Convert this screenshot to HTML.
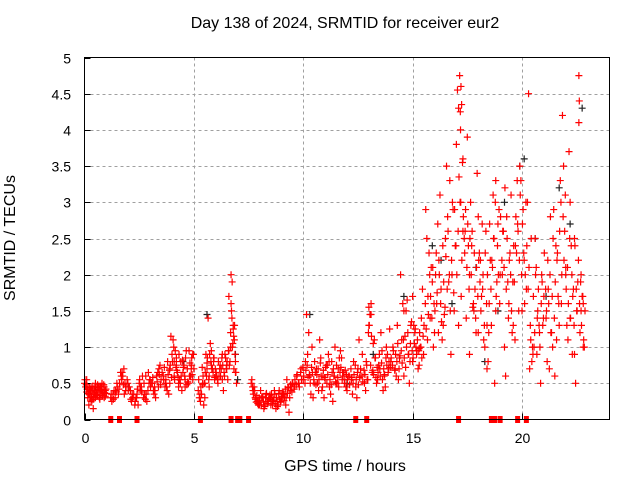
<!DOCTYPE html>
<html><head><meta charset="utf-8">
<style>
html,body{margin:0;padding:0;background:#fff}
svg{display:block;font-family:"Liberation Sans",sans-serif}
</style></head>
<body>
<svg id="chart" width="640" height="480" viewBox="0 0 640 480">
<text x="345" y="28" font-size="16" text-anchor="middle" fill="#000">Day 138 of 2024, SRMTID for receiver eur2</text>
<text x="345" y="471" font-size="16" text-anchor="middle" fill="#000">GPS time / hours</text>
<text x="15" y="238" font-size="16" text-anchor="middle" fill="#000" transform="rotate(-90 15 238)">SRMTID / TECUs</text>
<g id="grid"></g>
<g id="ticks"></g>
<g id="blackpts"></g>
<g id="redpts"></g>
<rect x="84.5" y="57.5" width="525" height="362" fill="none" stroke="#000" stroke-width="1"/>
</svg>
<script>
const xTicks=[0,5,10,15,20];
const yTicks=[0,0.5,1,1.5,2,2.5,3,3.5,4,4.5,5];
const yTickLabels=["0","0.5","1","1.5","2","2.5","3","3.5","4","4.5","5"];
const redHours=[0.0,0.05,0.1,0.15,0.2,0.25,0.3,0.35,0.4,0.45,0.5,0.55,0.6,0.65,0.7,0.75,0.8,0.85,0.9,0.95,1.0,0.1,0.2,0.3,0.4,0.5,0.6,0.7,0.8,0.9,0.25,0.45,
1.2,1.25,1.3,1.35,1.4,1.5,1.6,1.7,1.75,1.8,1.85,1.9,2.0,1.55,1.65,1.95,
2.1,2.2,2.3,2.4,2.5,2.6,2.7,2.8,2.9,3.0,3.1,3.2,3.3,3.4,3.5,2.15,2.35,2.55,2.75,2.95,3.15,3.35,2.45,2.85,3.25,
3.6,3.7,3.8,3.9,4.0,4.1,4.2,4.3,4.4,4.5,4.6,4.7,4.8,4.9,5.0,3.75,3.95,4.15,4.35,4.55,4.75,4.95,3.85,4.05,4.25,4.45,4.65,4.85,3.9,4.1,4.3,
5.2,5.3,5.4,5.5,5.6,5.7,5.8,5.9,6.0,5.35,5.55,5.75,5.95,5.45,5.65,5.85,5.5,5.7,5.9,
6.1,6.2,6.3,6.4,6.5,6.6,6.7,6.75,6.8,6.85,6.9,6.15,6.35,6.55,6.65,6.7,6.8,6.9,6.25,6.45,6.6,6.72,6.78,6.88,
7.65,7.7,7.8,7.9,8.0,8.1,8.2,8.3,8.4,8.5,8.6,8.7,8.8,8.9,9.0,9.1,9.2,9.3,9.4,9.5,7.75,7.95,8.15,8.35,8.55,8.75,8.95,9.15,9.35,8.05,8.45,8.85,9.25,
9.6,9.7,9.8,9.9,10.0,10.1,10.2,10.3,10.4,10.5,10.6,10.7,10.8,10.9,11.0,11.1,11.2,11.3,11.4,11.5,11.6,11.7,11.8,11.9,12.0,10.15,10.35,10.55,10.75,10.95,11.15,11.35,11.55,11.75,11.95,10.25,10.65,11.05,11.45,11.85,
12.1,12.2,12.3,12.4,12.5,12.6,12.7,12.8,12.9,13.0,13.1,13.2,13.3,13.4,13.5,13.6,13.7,13.8,13.9,14.0,12.25,12.55,12.85,13.05,13.15,13.35,13.55,13.75,13.95,12.45,12.95,13.45,13.85,
14.1,14.2,14.3,14.4,14.5,14.6,14.7,14.8,14.9,15.0,15.1,15.2,15.3,15.4,15.5,14.25,14.45,14.65,14.85,15.05,15.25,15.45,14.35,14.75,15.15,14.55,14.95,15.35,
15.6,15.65,15.7,15.8,15.9,16.0,16.1,16.2,16.3,16.4,16.5,16.6,16.7,16.8,16.9,17.0,17.1,17.15,17.2,17.25,17.3,15.75,15.95,16.15,16.35,16.55,16.75,16.95,17.05,17.18,17.22,16.05,16.45,16.85,17.1,17.3,15.85,16.25,16.65,
17.4,17.5,17.6,17.7,17.8,17.9,18.0,18.1,18.2,18.3,18.4,18.5,18.6,18.7,18.8,18.9,19.0,17.45,17.65,17.85,18.05,18.25,18.45,18.65,18.85,17.55,17.75,17.95,18.15,18.35,18.55,18.75,18.95,17.6,18.0,18.4,18.8,
19.1,19.2,19.3,19.4,19.5,19.6,19.7,19.8,19.9,20.0,20.1,20.2,20.3,20.4,20.5,20.6,20.7,20.8,20.9,21.0,19.15,19.35,19.55,19.75,19.85,19.95,20.15,20.35,20.55,20.75,20.95,19.25,19.45,19.65,20.05,20.25,20.45,20.65,20.85,
21.1,21.2,21.3,21.4,21.5,21.6,21.7,21.8,21.9,22.0,22.1,22.2,22.3,22.4,22.5,22.6,22.65,22.7,22.75,22.8,22.85,21.15,21.35,21.55,21.75,21.85,21.95,22.05,22.15,22.25,22.35,22.45,22.55,22.6,22.62,21.25,21.45,21.65,22.0,22.2,22.4,22.7,22.8];
const redValues=[0.5,0.45,0.38,0.42,0.35,0.3,0.45,0.4,0.35,0.42,0.5,0.38,0.33,0.45,0.4,0.35,0.42,0.38,0.45,0.4,0.36,0.55,0.2,0.25,0.15,0.3,0.48,0.28,0.5,0.3,0.4,0.35,
0.3,0.25,0.35,0.4,0.3,0.45,0.5,0.55,0.6,0.7,0.5,0.45,0.4,0.35,0.65,0.55,
0.4,0.3,0.2,0.35,0.5,0.45,0.3,0.6,0.4,0.55,0.5,0.45,0.6,0.7,0.55,0.25,0.3,0.45,0.35,0.5,0.4,0.65,0.2,0.25,0.3,
0.6,0.5,0.8,0.7,0.9,0.6,0.75,0.5,0.8,0.65,0.55,0.7,0.6,0.85,0.7,0.45,1.15,0.95,0.55,0.75,0.5,0.9,0.35,1.1,0.65,0.4,0.95,0.6,0.5,0.8,0.45,
0.4,0.25,0.5,0.3,0.7,0.6,0.75,0.8,0.6,0.35,0.9,1.05,0.55,0.2,1.4,0.7,0.5,0.45,0.85,
0.5,0.75,0.9,0.6,0.7,0.95,1.6,1.9,1.3,1.1,0.8,0.6,0.4,0.55,0.8,2.0,1.25,0.65,0.7,0.85,1.7,1.5,1.05,0.9,
0.55,0.4,0.3,0.25,0.2,0.3,0.15,0.35,0.25,0.3,0.2,0.35,0.25,0.4,0.3,0.35,0.2,0.45,0.4,0.5,0.45,0.2,0.3,0.25,0.35,0.15,0.25,0.3,0.1,0.4,0.3,0.2,0.55,
0.45,0.6,0.5,0.7,0.55,0.8,0.9,0.6,1.0,0.5,0.7,0.4,0.85,0.6,0.55,0.75,0.45,0.8,0.6,0.5,0.7,0.95,0.65,0.55,0.4,1.45,0.35,0.65,1.1,0.3,0.9,0.25,0.5,0.85,0.45,1.2,0.5,0.75,1.0,0.65,
0.6,0.55,0.8,0.45,0.7,0.6,0.9,0.5,0.75,1.3,1.6,1.05,0.85,0.55,0.7,0.95,0.6,1.0,0.7,0.8,0.35,1.1,0.4,1.45,0.65,0.5,1.2,0.45,1.25,0.3,0.55,0.75,0.9,
1.0,0.7,1.3,0.85,1.1,0.6,1.5,0.9,1.05,0.8,1.2,0.95,0.75,1.4,0.9,0.6,2.0,1.15,0.5,1.3,0.7,1.8,0.55,1.65,1.0,1.6,1.35,1.0,
2.9,2.5,1.7,1.4,1.9,1.2,1.6,2.2,1.8,1.3,2.5,2.8,3.3,2.0,1.5,3.8,4.3,4.75,3.0,2.2,3.6,2.3,1.0,2.7,1.1,3.5,0.9,2.4,4.55,4.25,1.7,2.0,1.45,2.9,1.3,2.6,2.1,3.1,1.9,
2.6,3.9,2.0,2.4,1.5,1.2,2.8,2.2,1.8,1.0,0.7,1.6,1.3,2.5,3.3,2.7,2.0,1.4,3.0,1.8,2.3,1.1,0.8,2.1,1.9,2.4,1.55,3.4,1.7,2.6,2.2,0.5,2.9,0.9,1.2,1.3,1.5,
2.0,1.0,2.8,1.6,3.1,1.3,2.4,2.7,3.5,1.5,2.2,1.8,4.5,1.1,0.9,2.5,1.4,1.2,2.0,1.7,2.6,1.9,1.2,2.3,1.5,3.3,2.0,0.7,1.0,1.8,1.3,0.6,2.3,1.9,2.9,3.0,0.8,2.1,0.5,
1.4,1.8,2.8,1.0,0.6,2.2,1.3,1.6,3.5,2.0,1.1,3.0,0.9,2.5,1.5,4.1,1.2,2.0,1.7,1.6,1.0,0.8,1.2,2.4,3.3,4.2,2.6,1.3,3.7,2.4,1.8,0.5,1.9,4.75,4.4,0.7,2.9,1.7,2.1,1.4,0.9,1.5,1.0];
const redHours2=[0.02,0.08,0.12,0.18,0.22,0.28,0.32,0.38,0.42,0.48,0.52,0.58,0.62,0.68,0.72,0.78,0.82,0.88,0.92,0.98,0.15,0.35,0.55,0.75,0.95,
1.22,1.32,1.42,1.48,1.58,1.68,1.78,1.88,1.98,1.45,1.72,1.82,
2.05,2.12,2.25,2.32,2.42,2.52,2.62,2.72,2.82,2.92,3.02,3.12,3.22,3.32,3.42,3.48,2.18,2.38,2.58,2.78,2.98,3.18,3.38,2.65,3.05,3.45,
3.55,3.65,3.72,3.82,3.92,4.02,4.12,4.22,4.32,4.42,4.52,4.62,4.72,4.82,4.92,4.98,3.68,3.88,4.08,4.28,4.48,4.68,4.88,3.78,3.98,4.18,4.38,4.58,4.78,4.95,3.62,4.2,4.6,4.9,
5.22,5.28,5.32,5.42,5.48,5.52,5.62,5.68,5.72,5.82,5.88,5.92,5.98,5.25,5.4,5.6,5.8,5.95,5.38,5.58,5.78,
6.02,6.08,6.12,6.18,6.22,6.28,6.32,6.38,6.42,6.48,6.52,6.58,6.62,6.68,6.74,6.76,6.82,6.86,6.92,6.05,6.3,6.5,6.68,6.83,6.95,
7.62,7.68,7.72,7.78,7.82,7.88,7.92,7.98,8.02,8.08,8.12,8.18,8.22,8.28,8.32,8.38,8.42,8.48,8.52,8.58,8.62,8.68,8.72,8.78,8.82,8.88,8.92,8.98,9.02,9.08,9.12,9.18,9.22,9.28,9.32,9.38,9.42,9.48,9.52,9.58,8.25,8.65,9.05,9.45,7.85,
9.62,9.68,9.72,9.78,9.82,9.88,9.92,9.98,10.02,10.08,10.12,10.18,10.22,10.28,10.32,10.38,10.42,10.48,10.52,10.58,10.62,10.68,10.72,10.78,10.82,10.88,10.92,10.98,11.02,11.08,11.12,11.18,11.22,11.28,11.32,11.38,11.42,11.48,11.52,11.58,11.62,11.68,11.72,11.78,11.82,11.88,11.92,11.98,10.45,10.85,11.25,11.65,
12.02,12.08,12.12,12.18,12.22,12.28,12.32,12.38,12.42,12.48,12.52,12.58,12.62,12.68,12.72,12.78,12.82,12.88,12.92,12.98,13.02,13.08,13.12,13.18,13.22,13.28,13.32,13.38,13.42,13.48,13.52,13.58,13.62,13.68,13.72,13.78,13.82,13.88,13.92,13.98,13.0,13.1,13.25,13.65,
14.02,14.08,14.12,14.18,14.22,14.28,14.32,14.38,14.42,14.48,14.52,14.58,14.62,14.68,14.72,14.78,14.82,14.88,14.92,14.98,15.02,15.08,15.12,15.18,15.22,15.28,15.32,15.38,15.42,15.48,14.6,15.0,15.3,
15.52,15.58,15.62,15.68,15.72,15.78,15.82,15.88,15.92,15.98,16.02,16.08,16.12,16.18,16.22,16.28,16.32,16.38,16.42,16.48,16.52,16.58,16.62,16.68,16.72,16.78,16.82,16.88,16.92,16.98,17.02,17.08,17.12,17.17,17.19,17.21,17.24,17.28,17.32,17.36,
17.38,17.42,17.48,17.52,17.58,17.62,17.68,17.72,17.78,17.82,17.88,17.92,17.98,18.02,18.08,18.12,18.18,18.22,18.28,18.32,18.38,18.42,18.48,18.52,18.58,18.62,18.68,18.72,18.78,18.82,18.88,18.92,18.98,19.02,19.08,
19.12,19.18,19.22,19.28,19.32,19.38,19.42,19.48,19.52,19.58,19.62,19.68,19.72,19.78,19.82,19.88,19.92,19.98,20.02,20.08,20.12,20.18,20.22,20.28,20.32,20.38,20.42,20.48,20.52,20.58,20.62,20.68,20.72,20.78,20.82,20.88,20.92,20.98,
21.02,21.08,21.12,21.18,21.22,21.28,21.32,21.38,21.42,21.48,21.52,21.58,21.62,21.68,21.72,21.78,21.82,21.88,21.92,21.98,22.02,22.08,22.12,22.18,22.22,22.28,22.32,22.38,22.42,22.48,22.52,22.58,22.63,22.68,22.72,22.78,22.82,22.88];
const redValues2=[0.55,0.48,0.42,0.36,0.44,0.38,0.32,0.46,0.28,0.4,0.34,0.44,0.38,0.3,0.46,0.4,0.33,0.48,0.37,0.42,0.3,0.27,0.35,0.45,0.32,
0.35,0.28,0.4,0.5,0.42,0.6,0.48,0.4,0.5,0.38,0.65,0.35,
0.45,0.28,0.35,0.25,0.42,0.55,0.38,0.5,0.35,0.65,0.45,0.58,0.4,0.52,0.62,0.48,0.35,0.3,0.4,0.28,0.55,0.35,0.45,0.6,0.5,0.75,
0.65,0.72,0.55,0.62,0.75,0.8,0.55,0.68,0.9,0.6,0.72,0.85,0.52,0.78,0.62,0.9,0.45,0.68,1.0,0.58,0.82,0.48,0.7,0.4,0.58,0.72,0.5,0.6,0.95,0.55,0.55,0.85,0.45,0.75,
0.55,0.35,0.45,0.6,0.5,0.65,0.85,0.55,0.9,0.7,0.65,0.85,0.7,0.3,0.48,0.78,0.95,0.58,0.72,0.6,0.8,
0.65,0.55,0.8,0.7,0.6,0.85,0.75,0.65,0.9,0.7,0.8,0.95,0.75,1.2,1.4,1.0,1.15,1.3,0.65,0.6,0.55,0.75,1.0,0.7,0.5,
0.5,0.45,0.35,0.4,0.28,0.33,0.22,0.3,0.26,0.2,0.32,0.24,0.18,0.3,0.36,0.22,0.28,0.34,0.2,0.25,0.3,0.4,0.22,0.3,0.18,0.36,0.28,0.24,0.32,0.38,0.26,0.42,0.3,0.36,0.44,0.3,0.48,0.38,0.5,0.42,0.2,0.27,0.35,0.45,0.24,
0.55,0.48,0.62,0.5,0.45,0.65,0.55,0.72,0.6,0.5,0.68,0.75,0.58,0.62,0.5,0.72,0.65,0.55,0.8,0.48,0.62,0.7,0.55,0.78,0.6,0.45,0.68,0.58,0.72,0.5,0.62,0.8,0.55,0.48,0.65,0.7,0.6,0.52,0.75,0.58,0.45,0.65,0.72,0.55,0.6,0.5,0.68,0.62,0.3,0.4,0.35,0.85,
0.55,0.6,0.48,0.7,0.58,0.5,0.62,0.75,0.55,0.65,0.48,0.58,0.7,0.6,0.52,0.68,0.62,0.8,0.55,1.2,1.3,0.75,1.15,0.68,0.62,0.85,0.58,0.72,0.65,0.9,0.6,0.78,0.55,0.7,0.62,0.85,0.75,0.65,0.8,0.72,1.55,1.45,1.1,0.4,
0.85,0.75,0.95,0.68,0.9,0.8,1.05,0.7,0.88,0.95,0.78,1.1,0.85,0.72,1.0,1.2,0.9,0.8,1.3,0.95,0.85,1.05,1.25,0.9,1.1,0.95,1.2,1.0,0.85,1.15,1.5,1.7,0.98,
1.3,1.6,1.25,1.1,1.45,2.0,1.7,1.4,2.1,1.6,1.5,2.3,1.75,1.2,2.0,1.6,1.35,2.4,1.9,1.55,2.25,1.8,2.6,2.0,1.5,2.2,3.0,1.75,2.9,2.4,2.0,2.6,3.35,3.0,4.0,4.6,4.35,3.55,2.8,2.5,
2.3,2.9,2.1,2.7,1.8,2.5,2.0,2.6,1.6,2.3,1.4,2.1,1.7,2.2,1.9,1.5,2.7,2.0,1.3,2.3,1.6,2.0,1.2,2.7,1.8,2.2,3.1,2.5,3.0,1.7,2.4,2.0,1.6,2.8,2.2,
2.6,2.1,3.2,1.8,2.5,1.4,2.2,2.0,1.5,1.9,2.4,1.1,2.8,3.3,2.6,2.2,3.1,2.0,2.7,2.3,1.6,3.0,2.4,1.8,2.1,1.3,2.5,1.0,1.7,1.2,2.0,0.9,1.5,1.3,1.0,1.6,1.9,1.4,
2.3,1.8,1.5,2.2,1.6,2.0,1.2,1.7,2.5,1.4,1.9,1.1,2.3,1.6,2.6,3.0,2.0,2.8,2.2,3.1,1.8,2.1,1.6,2.5,1.4,2.0,1.7,1.3,2.4,1.8,1.5,2.2,1.6,1.9,1.3,1.7,1.1,1.5];
const blackHours=[0.5,2.0,4.5,5.6,6.9,7.0,10.3,12.0,13.2,14.6,15.9,16.8,17.9,18.9,19.2,19.9,20.6,21.1,21.7,22.2,22.75,16.3,18.3,20.1];
const blackValues=[0.45,0.45,0.8,1.45,0.9,0.55,1.45,0.5,0.9,1.7,2.4,1.6,2.1,1.5,3.0,3.5,2.5,1.7,3.2,2.7,4.3,2.2,0.8,3.6];
const zeroHours=[1.2,1.6,2.4,5.3,6.7,7.0,7.1,7.5,12.4,12.9,17.1,18.6,18.75,19.0,19.8,20.2];

const NS='http://www.w3.org/2000/svg';
const X0=84.5,X1=609.5,Y0=419.5,Y1=57.5,XMAX=24,YMAX=5;
function xs(h){return X0+(h/XMAX)*(X1-X0);}
function ys(v){return Y0-(v/YMAX)*(Y0-Y1);}
function mk(tag,attrs,parent){const e=document.createElementNS(NS,tag);for(const k in attrs)e.setAttribute(k,attrs[k]);parent.appendChild(e);return e;}
const grid=document.getElementById('grid'),ticks=document.getElementById('ticks');
xTicks.forEach(t=>{
  const x=Math.round(xs(t))+0.5;
  if(t>0){const g=mk('line',{x1:x,x2:x,y1:Y1,y2:Y0,stroke:'#a0a0a0','stroke-dasharray':'3,3'},grid);
  
  }
  const tk=mk('line',{x1:x,x2:x,y1:Y0,y2:Y0-6,stroke:'#000'},ticks);
  
  
  const lb=mk('text',{x:x,y:443,'font-size':14,'text-anchor':'middle'},ticks);lb.textContent=String(t);
  
  
});
yTicks.forEach((v,i)=>{
  const y=Math.round(ys(v))+0.5;
  if(v>0&&v<5){const g=mk('line',{x1:X0,x2:X1,y1:y,y2:y,stroke:'#a0a0a0','stroke-dasharray':'3,3'},grid);
  
  }
  const tk=mk('line',{x1:X0,x2:X0+6,y1:y,y2:y,stroke:'#000'},ticks);
  
  
  const lb=mk('text',{x:71,y:y+5,'font-size':14,'text-anchor':'end'},ticks);lb.textContent=yTickLabels[i];
  
  
});
function plus(parent,h,v,color,name){
  const x=xs(h),y=ys(v);
  const p=mk('path',{d:`M${x-3.5} ${y}H${x+3.5}M${x} ${y-3.5}V${y+3.5}`,stroke:color,'stroke-width':1.2,fill:'none'},parent);
  
  
}
const bg=document.getElementById('blackpts'),rg=document.getElementById('redpts');
blackHours.forEach((h,i)=>plus(bg,h,blackValues[i],'#222','black-point'));
redHours.forEach((h,i)=>plus(rg,h,redValues[i],'#ff0000','red-point'));
redHours2.forEach((h,i)=>plus(rg,h,redValues2[i],'#ff0000','red-point'));
zeroHours.forEach(h=>{
  const r=mk('rect',{x:xs(h)-2.5,y:Y0-3.5,width:5,height:7,fill:'#ff0000'},rg);
  
  
});
</script>
</body></html>
